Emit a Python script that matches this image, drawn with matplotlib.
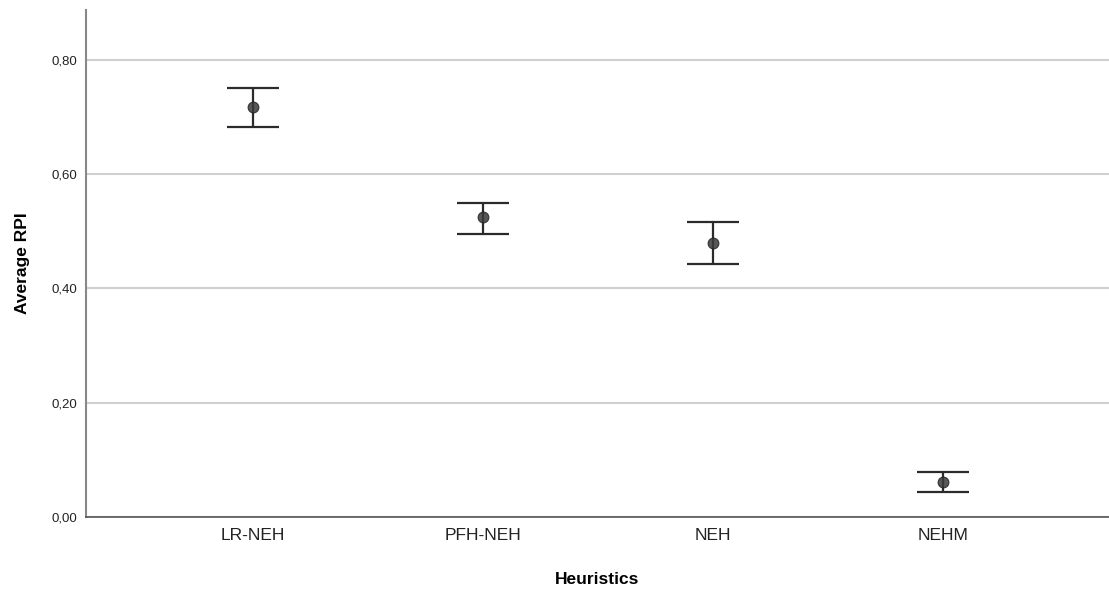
import matplotlib
matplotlib.use("Agg")
import matplotlib.pyplot as plt
from matplotlib.ticker import FuncFormatter

plt.rcParams['font.family'] = ['Liberation Sans', 'DejaVu Sans']

heuristics = ["LR-NEH", "PFH-NEH", "NEH", "NEHM"]
mean_rpi = [0.718, 0.525, 0.480, 0.061]
ci_low = [0.683, 0.495, 0.442, 0.043]
ci_high = [0.751, 0.550, 0.517, 0.078]
y_ticks = [0.0, 0.2, 0.4, 0.6, 0.8]

fig = plt.figure(figsize=(11.09, 5.93), dpi=100)
ax = fig.add_axes([86/1109, 1-517/593, 1-86/1109, (517-10)/593])

xs = list(range(1, len(heuristics)+1))
err_lo = [m-l for m, l in zip(mean_rpi, ci_low)]
err_hi = [h-m for m, h in zip(mean_rpi, ci_high)]

ax.errorbar(xs, mean_rpi, yerr=[err_lo, err_hi], fmt='none',
            ecolor='#2b2b2b', elinewidth=1.6, capsize=18.5, capthick=1.6, zorder=3)
ax.scatter(xs, mean_rpi, s=60, color='#3a3a3a', alpha=0.85,
           edgecolors='#222222', linewidths=0.8, zorder=4)

ax.set_xlim(0.274, 4.72)
ax.set_ylim(0, 0.8875)
ax.set_yticks(y_ticks)
ax.yaxis.set_major_formatter(FuncFormatter(lambda v, p: f"{v:.2f}".replace('.', ',')))
ax.set_xticks(xs)
ax.set_xticklabels(heuristics, fontsize=12.5, color='#222222')
ax.tick_params(axis='y', labelsize=9.5, length=0, pad=6, colors='#222222')
ax.tick_params(axis='x', length=0, pad=8)
ax.grid(axis='y', color='#d0d0d0', linewidth=1.5)
ax.set_axisbelow(True)

for s in ['top', 'right']:
    ax.spines[s].set_visible(False)
ax.spines['left'].set_color('#888888')
ax.spines['left'].set_linewidth(1.5)
ax.spines['bottom'].set_color('#555555')
ax.spines['bottom'].set_linewidth(1.2)

ax.set_ylabel("Average RPI", fontsize=12.5, fontweight='bold', labelpad=16)
ax.set_xlabel("Heuristics", fontsize=12.5, fontweight='bold', labelpad=21)

fig.savefig("out.png", dpi=100)
